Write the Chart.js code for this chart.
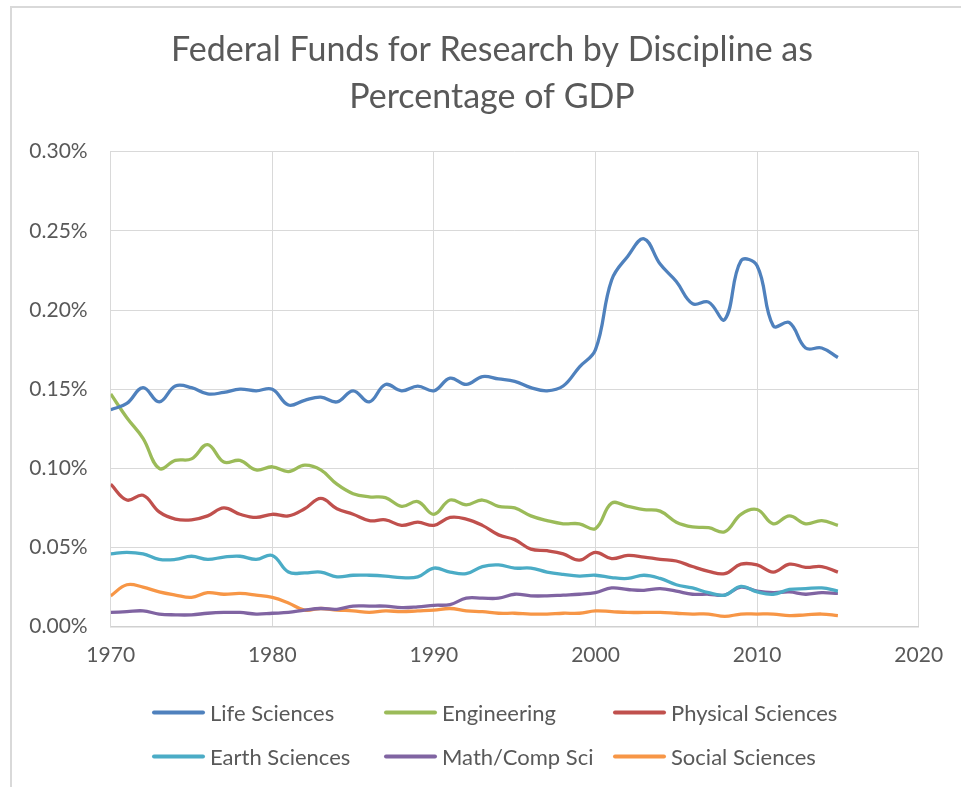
<!DOCTYPE html>
<html>
<head>
<meta charset="utf-8">
<script src="https://cdn.jsdelivr.net/npm/chart.js@4/dist/chart.umd.min.js"></script>
<style>
  html, body { margin: 0; padding: 0; background: #ffffff; overflow: hidden; }
  #wrap { position: relative; width: 961px; height: 787px; overflow: hidden; }
  #frame { position: absolute; left: 10px; top: 6px; width: 1200px; height: 1200px; border: 2px solid #d9d9d9; box-sizing: border-box; }
  canvas { position: absolute; left: 0; top: 0; }
  #legend { position: absolute; left: 0; top: 0; width: 961px; height: 787px; pointer-events: none;
            font-family: Lato, "Open Sans", sans-serif; font-size: 22px; color: #595959; }
  .item { position: absolute; display: flex; align-items: center; white-space: nowrap; transform: translateY(-50%); }
  .swatch { width: 53px; height: 4px; border-radius: 2px; margin-right: 5px; }
</style>
</head>
<body>
<div id="wrap">
  <div id="frame"></div>
  <canvas id="c" width="961" height="787"></canvas>
  <div id="legend"></div>
</div>
<script>
const years = [1970,1971,1972,1973,1974,1975,1976,1977,1978,1979,1980,1981,1982,1983,1984,1985,1986,1987,1988,1989,1990,1991,1992,1993,1994,1995,1996,1997,1998,1999,2000,2001,2002,2003,2004,2005,2006,2007,2008,2009,2010,2011,2012,2013,2014,2015];

const lifeSciences = [0.137,0.141,0.151,0.142,0.152,0.151,0.147,0.148,0.150,0.149,0.150,
  0.140,0.143,0.145,0.142,0.149,0.142,0.153,0.149,0.152,0.149,
  0.157,0.153,0.158,0.1565,0.155,0.151,0.149,0.152,0.164,0.175,
  0.219,0.234,0.245,0.229,0.218,0.204,0.205,0.194,0.231,0.228,
  0.190,0.192,0.176,0.176,0.170];

const engineering = [0.147,0.132,0.119,0.100,0.105,0.106,0.115,0.104,0.105,0.099,0.101,
  0.098,0.102,0.099,0.090,0.084,0.082,0.0815,0.076,0.079,0.071,
  0.080,0.077,0.080,0.076,0.075,0.070,0.067,0.065,0.065,0.062,
  0.078,0.076,0.074,0.073,0.066,0.063,0.0625,0.060,0.071,0.074,
  0.065,0.070,0.065,0.067,0.064];

const physicalSciences = [0.090,0.080,0.083,0.0725,0.068,0.0675,0.070,0.075,0.071,0.069,0.071,
  0.070,0.0745,0.081,0.0745,0.071,0.067,0.0675,0.064,0.066,0.064,
  0.069,0.068,0.064,0.058,0.055,0.049,0.048,0.046,0.042,0.047,
  0.043,0.045,0.044,0.0425,0.0415,0.038,0.035,0.0335,0.0395,0.039,
  0.0345,0.0395,0.0375,0.038,0.0345];

const earthSciences = [0.046,0.047,0.046,0.0425,0.0425,0.0445,0.0425,0.044,0.0445,0.0425,0.045,
  0.0345,0.034,0.0345,0.0315,0.0325,0.0325,0.032,0.031,0.0315,0.037,
  0.0345,0.0335,0.038,0.039,0.037,0.037,0.0345,0.033,0.032,0.0325,
  0.031,0.0305,0.0325,0.0305,0.0265,0.0245,0.0215,0.020,0.0255,0.022,
  0.0205,0.0235,0.024,0.0245,0.0225];

const mathCompSci = [0.009,0.0095,0.010,0.008,0.0075,0.0075,0.0085,0.009,0.009,0.008,0.0085,
  0.009,0.0105,0.0115,0.011,0.013,0.013,0.013,0.012,0.0125,0.0135,
  0.014,0.018,0.018,0.018,0.0205,0.0195,0.0195,0.020,0.0205,0.0215,
  0.0245,0.0235,0.023,0.024,0.0225,0.0205,0.0205,0.020,0.025,0.0225,
  0.0215,0.022,0.0205,0.0215,0.021];

const socialSciences = [0.0195,0.0265,0.025,0.022,0.020,0.0185,0.0215,0.0205,0.021,0.020,0.0185,
  0.015,0.0105,0.0115,0.0105,0.010,0.009,0.010,0.0095,0.010,0.0105,
  0.0115,0.010,0.0095,0.0085,0.0085,0.008,0.008,0.0085,0.0085,0.010,
  0.0095,0.009,0.009,0.009,0.0085,0.008,0.008,0.0065,0.008,0.008,
  0.008,0.007,0.0075,0.008,0.007];

const seriesNames = ['Life Sciences','Engineering','Physical Sciences','Earth Sciences','Math/Comp Sci','Social Sciences'];
const seriesValues = [lifeSciences, engineering, physicalSciences, earthSciences, mathCompSci, socialSciences];
const seriesColors = ['#4F81BD','#9BBB59','#C0504D','#4BACC6','#8064A2','#F79646'];
const titleLines = ['Federal Funds for Research by Discipline as','Percentage of GDP'];
const xTicks = [1970,1980,1990,2000,2010,2020];
const yTickStep = 0.05;

const FONT = 'Lato, "Open Sans", sans-serif';
const TEXT = '#595959';

const datasets = seriesNames.map((name, i) => ({
  label: name,
  data: years.map((y, j) => ({x: y, y: seriesValues[i][j]})),
  borderColor: seriesColors[i],
  backgroundColor: seriesColors[i],
  borderWidth: 3.3,
  pointRadius: 0,
  tension: 0.4,
  fill: false
}));

// centre the title on the whole chart frame rather than on the plot box
const titleFrame = {
  id: 'titleFrame',
  afterLayout(chart) {
    const t = chart.titleBlock;
    if (t) { t.left = 11; t.right = 973; t.width = t.right - t.left; }
  }
};

new Chart(document.getElementById('c'), {
  type: 'line',
  data: { datasets },
  plugins: [titleFrame],
  options: {
    responsive: false,
    animation: false,
    layout: { padding: { left: 0, right: 42.3, top: 0, bottom: 0 } },
    plugins: {
      legend: { display: false },
      tooltip: { enabled: false },
      title: {
        display: true,
        text: titleLines,
        color: TEXT,
        font: { family: FONT, size: 34, weight: 'normal', lineHeight: 47/34 },
        padding: { top: 26.5, bottom: 31.2 }
      }
    },
    scales: {
      x: {
        type: 'linear',
        min: 1970, max: 2020,
        afterBuildTicks: (s) => { s.ticks = xTicks.map(v => ({value: v})); },
        afterFit: (s) => { s.height = 787 - 626.7; },
        ticks: { color: TEXT, font: { family: FONT, size: 21 }, padding: 16, maxRotation: 0,
                 callback: (v) => String(v) },
        grid: { color: '#d9d9d9', lineWidth: 1, drawTicks: false },
        border: { color: '#d0d0d0', width: 1.5 }
      },
      y: {
        min: 0, max: 0.30,
        ticks: { stepSize: yTickStep, color: TEXT, font: { family: FONT, size: 21 }, padding: 23,
                 callback: (v) => v.toFixed(2) + '%' },
        afterFit: (s) => { s.width = 110.7; },
        grid: { color: '#d9d9d9', lineWidth: 1, drawTicks: false },
        border: { color: '#d9d9d9', width: 1 }
      }
    }
  }
});

// HTML legend in a 3-column grid
const legendCols = [152, 384, 613];
const legendRows = [712, 756];
const legendEl = document.getElementById('legend');
seriesNames.forEach((name, i) => {
  const d = document.createElement('div');
  d.className = 'item';
  d.style.left = legendCols[i % 3] + 'px';
  d.style.top = legendRows[Math.floor(i / 3)] + 'px';
  const sw = document.createElement('span');
  sw.className = 'swatch';
  sw.style.background = seriesColors[i];
  const t = document.createElement('span');
  t.textContent = name;
  d.appendChild(sw); d.appendChild(t);
  legendEl.appendChild(d);
});
</script>
</body>
</html>
